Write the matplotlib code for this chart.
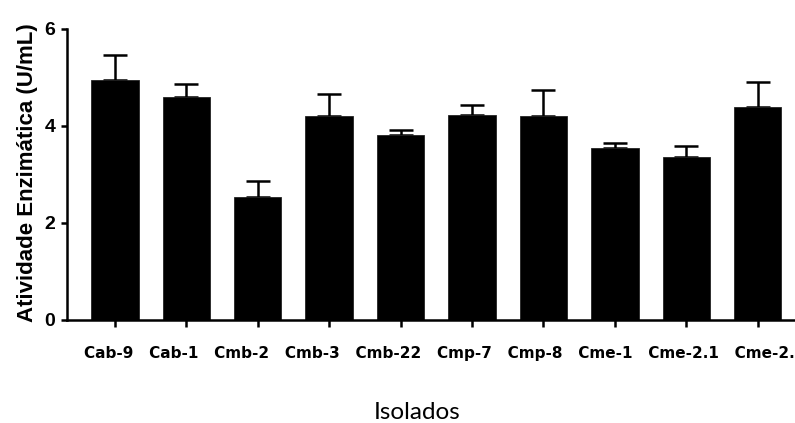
import numpy as np
import matplotlib.pyplot as plt

isolados = ["Cab-9", "Cab-1", "Cmb-2", "Cmb-3", "Cmb-22",
            "Cmp-7", "Cmp-8", "Cme-1", "Cme-2.1", "Cme-2.2"]
atividade = [4.95, 4.60, 2.54, 4.20, 3.81, 4.23, 4.20, 3.55, 3.36, 4.40]
erro = [0.52, 0.27, 0.33, 0.45, 0.11, 0.21, 0.55, 0.10, 0.22, 0.50]

fig = plt.figure(figsize=(7.95, 4.23), dpi=100)
ax = fig.add_axes([0.0843, 0.2435, 0.929, 0.688])

x = np.arange(len(isolados))
lw = 1.8

# upper error bars only, as in the GraphPad style
ax.errorbar(x, atividade, yerr=[np.zeros(len(erro)), erro], fmt="none",
            ecolor="black", elinewidth=lw, capsize=8.5, capthick=lw, zorder=1)
ax.bar(x, atividade, width=0.665, color="black", edgecolor="#222222",
       linewidth=0.6, zorder=2)

ax.set_xlim(-0.67, 9.67)
ax.set_ylim(0, 6)
ax.set_yticks([0, 2, 4, 6])
ax.set_yticklabels(["0", "2", "4", "6"], fontfamily="Liberation Sans",
                   fontweight="bold", fontsize=14)
ax.set_xticks(x)
ax.set_xticklabels([])

for side in ["top", "right"]:
    ax.spines[side].set_visible(False)
for side in ["left", "bottom"]:
    ax.spines[side].set_linewidth(lw)

ax.tick_params(axis="y", length=4.5, width=lw, pad=4)
ax.tick_params(axis="x", length=5, width=lw)

# category names were typed as one line of text under the axis
fig.text(84 / 795, 1 - 353 / 423, "   ".join(isolados), ha="left",
         va="center", fontfamily="DejaVu Sans", fontweight="bold",
         fontsize=11)

fig.text(0.034, 1 - 173 / 423, "Atividade Enzimática (U/mL)", rotation=90,
         ha="center", va="center", fontfamily="Liberation Sans",
         fontweight="bold", fontsize=16)
fig.text(417 / 795, 1 - 412 / 423, "Isolados", ha="center", va="center",
         fontfamily="Lato", fontsize=17.5)

fig.savefig("out.png", dpi=100)
